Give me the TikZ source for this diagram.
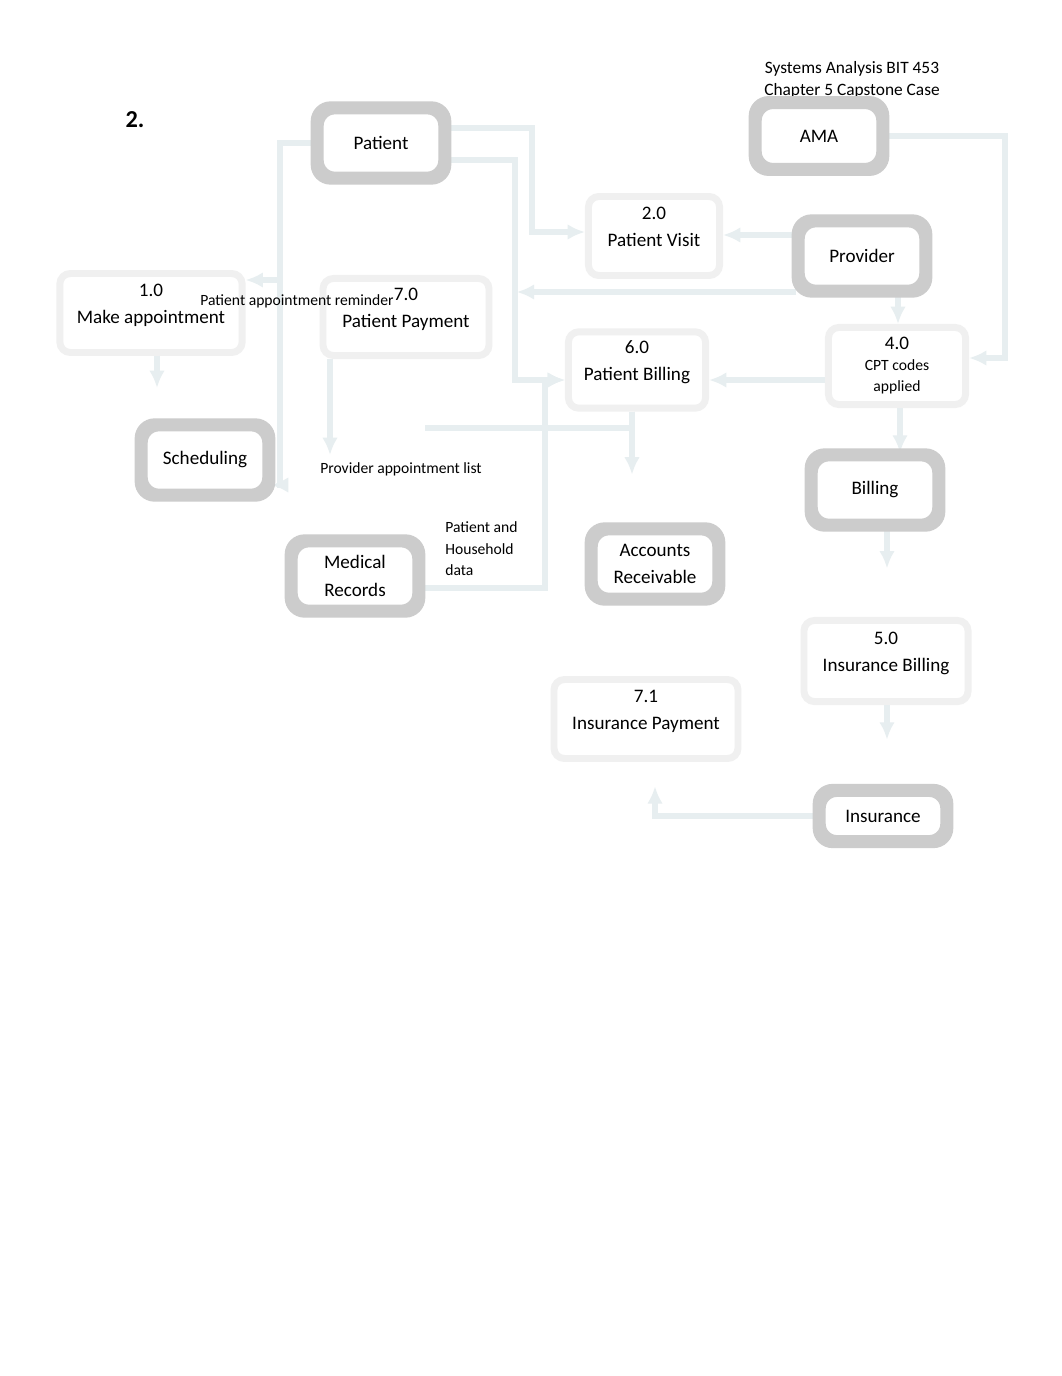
\documentclass[tikz,border=0pt]{standalone}
\usepackage{fontspec}
\setmainfont{Carlito}
\usetikzlibrary{positioning,arrows.meta}
\definecolor{flowblue}{HTML}{E7EEF0}
\definecolor{entitygray}{HTML}{CCCCCC}
\definecolor{procgray}{HTML}{F0F0F0}

\begin{document}
\begin{tikzpicture}[
  x=0.576pt, y=-0.576pt,
  font=\fontsize{11}{15.5}\selectfont,
  entity/.style={
    draw=entitygray, line width=5pt, rounded corners=9pt,
    minimum width=71pt, minimum height=38pt,
    align=center, fill=white, inner sep=2pt
  },
  process/.style={
    draw=procgray, line width=4pt, rounded corners=6pt,
    align=center, fill=white, inner sep=2pt, text depth=11pt
  },
  note/.style={font=\fontsize{9}{12.5}\selectfont, inner sep=0pt},
  flow/.style={flowblue, line width=3pt, -{Latex[length=10pt,width=9pt]}},
]
\useasboundingbox[fill=white] (0,0) rectangle (1062,1376);

% Heading and title.
\node[font=\fontsize{14}{16}\selectfont\bfseries] (num) at (135,120) {2.};
\node[note, align=center, font=\fontsize{10}{12.7}\selectfont] (title) at (852,80)
  {Systems Analysis BIT 453\\Chapter 5 Capstone Case};

% External entities.
\node[entity] (patient) at (381,143) {Patient};
\node[entity, minimum height=36pt] (ama) at (819,136) {AMA};
\node[entity] (provider) at (862,256) {Provider};
\node[entity] (sched) at (205,460) {Scheduling};
\node[entity] (billing) at (875,490) {Billing};
\node[entity] (medrec) at (355,576) {Medical\\[1pt]Records};
\node[entity] (ar) at (655,564) {Accounts\\Receivable};
\node[entity, minimum height=27pt] (insurance) at (883,816) {Insurance};

% Processes.
\node[process, minimum width=105pt, minimum height=45.5pt] (makeappt) at (151,313)
  {1.0\\Make appointment};
\node[process, minimum width=95.6pt, minimum height=44.4pt] (patpay) at (406,317)
  {7.0\\Patient Payment};
\node[process, minimum width=75.5pt, minimum height=45.5pt] (visit) at (654,236)
  {2.0\\Patient Visit};
\node[process, minimum width=79pt, minimum height=44pt] (patbill) at (637,370)
  {6.0\\Patient Billing};
\node[process, minimum width=79pt, minimum height=44.4pt, text depth=2pt,
  font=\fontsize{11}{12}\selectfont] (cpt) at (897,366)
  {4.0\\\fontsize{9}{11.5}\selectfont CPT codes\\\fontsize{9}{11.5}\selectfont applied};
\node[process, minimum width=94.5pt, minimum height=46.7pt] (insbill) at (886,661)
  {5.0\\Insurance Billing};
\node[process, minimum width=106pt, minimum height=45.5pt] (inspay) at (646,719)
  {7.1\\Insurance Payment};

% Free ends of two flows.
\coordinate (applist) at (330,455);
\coordinate (stub) at (425,428);

% Data flows.
\draw[flow] (patient.west) -| (280,280) -- (makeappt.east |- 0,280);
\draw[flow] (patient.west) -| (280,485) -- (sched.east |- 0,485);
\draw[flow, shorten >=20pt] (makeappt.south -| 157,0) -- (sched.north -| 157,0);
\draw[flow] (patpay.south -| 330,0) -- (applist);
\draw[flow] (patient.east |- 0,128) -| (532,232) -- (visit.west |- 0,232);
\draw[flow] (patient.east |- 0,160) -| (515,380) -- (patbill.west |- 0,380);
\draw[flow] (medrec.east |- 0,588) -| (545,380) -- (patbill.west |- 0,380);
\draw[flow] (provider.west |- 0,235) -- (visit.east |- 0,235);
\draw[flow, shorten >=14pt] (provider.west |- 0,292) -- (patpay.east |- 0,292);
\draw[flow] (ama.east) -| (1005,358) -- (cpt.east |- 0,358);
\draw[flow] (provider.south -| 898,0) -- (cpt.north -| 898,0);
\draw[flow] (cpt.west |- 0,380) -- (patbill.east |- 0,380);
\draw[flow] (cpt.south -| 900,0) -- (billing.north -| 900,0);
\draw[flow, shorten >=28pt] (billing.south -| 887,0) -- (insbill.north -| 887,0);
\draw[flow, shorten >=28pt] (insbill.south -| 887,0) -- (insurance.north -| 887,0);
\draw[flow, shorten >=14pt] (insurance.west) -| (inspay.south -| 655,0);
\draw[flow, shorten >=30pt] (patbill.south -| 632,0) -- (ar.north -| 632,0);
\draw[flow, -] (patbill.south -| 632,0) |- (stub);

% Flow labels.
\node[note] (remind) at (297,301) {Patient appointment reminder};
\node[note] (provlist) at (401,469) {Provider appointment list};
\node[note, align=left, anchor=west, font=\fontsize{9}{12.4}\selectfont] (hhdata) at (445,549)
  {Patient and\\Household\\data};

% Redraw boxes over the flows.
\foreach \n in {patient,ama,provider,sched,billing,medrec,ar,insurance}
  \draw[entitygray, line width=5pt, rounded corners=9pt] (\n.north west) rectangle (\n.south east);
\end{tikzpicture}
\end{document}
